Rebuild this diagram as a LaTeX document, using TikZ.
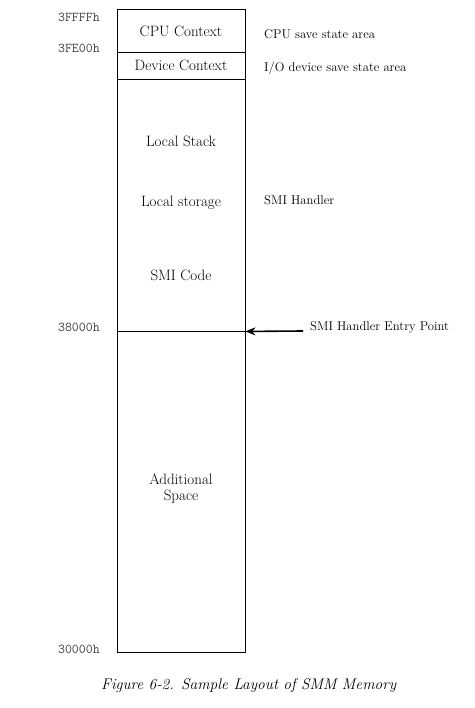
\documentclass[tikz,border=0pt]{standalone}
\usepackage{fontspec}
\usepackage{tikz}
\usetikzlibrary{arrows.meta,positioning,calc}

\begin{document}
\begin{tikzpicture}[x=1pt,y=-1pt,
region/.style={rectangle,draw,line width=0.9pt,minimum width=128pt,inner sep=0pt,font=\fontsize{15}{16}\selectfont},
inner/.style={font=\fontsize{15}{16}\selectfont},
note/.style={anchor=west,inner sep=0pt,font=\fontsize{12.7}{14}\selectfont},
addr/.style={anchor=east,inner sep=0pt,text=black!75,font=\ttfamily\fontsize{13.5}{14}\selectfont}]
\useasboundingbox (0,0) rectangle (474,708);
% memory regions
\node[region,minimum height=43pt,text height=16pt,text depth=3pt] (cpu) at (181,30.5) {CPU Context};
\node[region,minimum height=27pt] (dev) at (181,65.5) {Device Context};
\node[region,minimum height=252pt] (handler) at (181,205) {};
\node[region,minimum height=321pt,align=center,text depth=9pt] (extra) at (181,491.5) {Additional\\Space};
\node[inner] (stack) at (181,141) {Local Stack};
\node[inner] (storage) at (181,203) {Local storage};
\node[inner] (code) at (181,275) {SMI Code};
% addresses
\foreach \n/\y/\t in {top/17/3FFFFh,dtop/48/3FE00h,entry/327/38000h,base/649/30000h}
  \node[addr] (a\n) at (100,\y) {\t};
% notes
\node[note] (cpunote) at (264,34) {CPU save state area};
\node[note] (devnote) at (264,68) {I/O device save state area};
\node[note] (hnote) at (264,200) {SMI Handler};
\node[note] (enote) at (310,327) {SMI Handler Entry Point};
\draw[-{Stealth[length=10pt,width=8pt]},line width=1.6pt] ($(enote.west)+(-7,4)$) -- (handler.south east);
\node[anchor=west,inner sep=0pt,font=\itshape\fontsize{15.4}{17}\selectfont] (caption) at (101,686) {Figure 6-2. Sample Layout of SMM Memory};
\end{tikzpicture}
\end{document}
